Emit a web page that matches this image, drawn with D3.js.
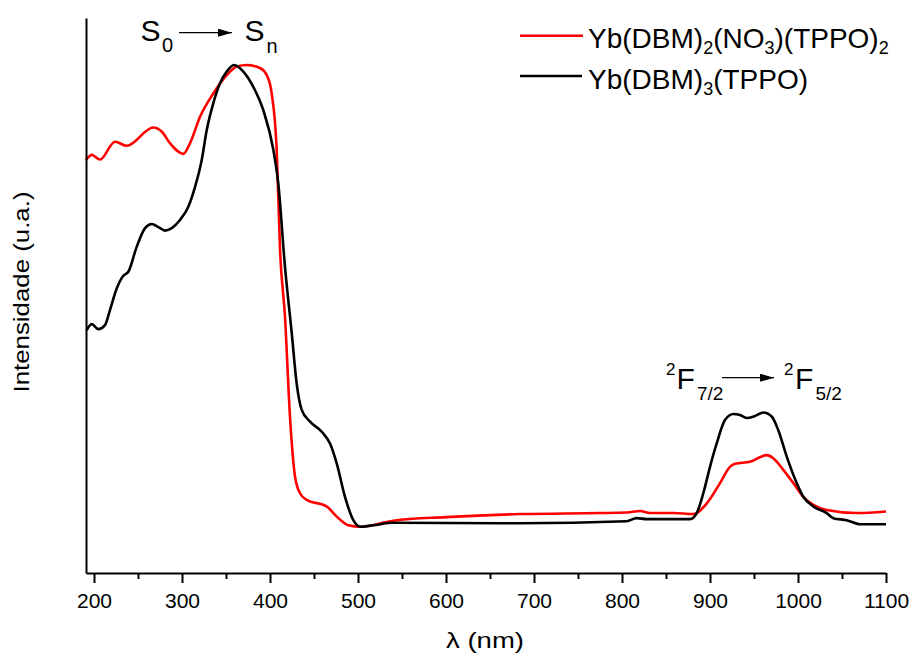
<!DOCTYPE html>
<html>
<head>
<meta charset="utf-8">
<script src="https://cdn.jsdelivr.net/npm/d3@7"></script>
<style>
  html, body { margin: 0; padding: 0; background: #fff; }
  svg { display: block; font-family: "Liberation Sans", Arial, sans-serif; }
</style>
</head>
<body>
<svg id="chart" width="915" height="655"></svg>
<script>
// ---- Data (wavelength in nm, intensity in arbitrary units, peak = 100) ----
const redWavelength = [190.9, 197.4, 206.8, 223.9, 237.2, 267.4, 276.9, 286.4, 301.5, 309.1,
  320.5, 335.6, 350.8, 362.2, 373.5, 388.6, 396.3, 401.9, 407.6, 411.4, 417, 422.7, 428.4,
  434.1, 441.7, 464.4, 475.8, 489, 502.3, 540.1, 600, 684.1, 775, 805.3, 820.5, 831.8, 858.3,
  881, 896.3, 911.4, 922.7, 928.4, 945.5, 956.8, 964.4, 971.9, 983.3, 994.7, 1006, 1017.4,
  1032.6, 1066.7, 1100];
const redIntensity = [81.3, 82.3, 81.4, 84.9, 84.1, 87.7, 86.9, 84.6, 82.5, 84.6,
  89.8, 94.4, 98.0, 99.7, 100, 99.4, 98.0, 94.4, 83.3, 63.6, 50.5, 30.8, 19.0,
  15.7, 14.4, 13.1, 11.1, 9.4, 9.1, 10.3, 11.0, 11.6, 11.8, 11.9, 12.2, 11.8, 11.8,
  11.6, 13.7, 17.7, 20.9, 21.5, 21.9, 22.8, 23.2, 22.6, 20.3, 17.7, 15.0, 13.4,
  12.4, 11.8, 12.1];

const blackWavelength = [191.7, 197.4, 204.9, 212.5, 218.2, 225.8, 233.3, 239, 248.5, 258,
  265.6, 273.1, 280.7, 288.3, 297.7, 307.2, 314.8, 322.4, 328.1, 335.6, 343.2, 350.8, 359.1,
  369.7, 381, 392.4, 403.8, 409.4, 417, 424.7, 430.3, 436, 445.5, 458.8, 468.2, 475.8, 485.2,
  494.7, 502.3, 517.4, 540.1, 661.4, 684.1, 805.3, 816.7, 828.1, 877.3, 884.9, 892.4, 900,
  907.6, 917, 926.5, 934.1, 941.7, 951.1, 960.6, 970.1, 977.6, 987.2, 998.5, 1006, 1017.4,
  1032.6, 1040.1, 1055.3, 1070.5, 1100];
const blackIntensity = [47.8, 49.0, 48.0, 48.8, 51.8, 56.0, 58.5, 59.3, 64.2, 67.9,
  68.7, 68.1, 67.4, 67.9, 69.5, 72.1, 76.0, 81.3, 87.2, 92.5, 96.4, 98.7, 100,
  98.7, 95.7, 91.1, 83.3, 76.7, 60.3, 47.2, 37.3, 32.1, 29.8, 27.8, 25.5, 21.6, 15.0,
  10.4, 9.1, 9.4, 9.9, 9.8, 9.8, 10.2, 10.8, 10.6, 10.6, 11.8, 15.7, 20.9,
  25.5, 30.1, 31.3, 31.1, 30.5, 30.9, 31.6, 30.8, 28.1, 22.9, 17.7, 15.0, 13.1,
  11.8, 10.8, 10.4, 9.6, 9.6];

const majorTicks = [200, 300, 400, 500, 600, 700, 800, 900, 1000, 1100];
const minorTicks = [250, 350, 450, 550, 650, 750, 850, 950, 1050];

const seriesNames = ["Yb(DBM)2(NO3)(TPPO)2", "Yb(DBM)3(TPPO)"];
const seriesColors = ["#ff0000", "#000000"];

// ---- Layout ----
const svg = d3.select("#chart");
const x = d3.scaleLinear().domain([190.9, 1100]).range([86, 886]);
const y = d3.scaleLinear().domain([0, 109.25]).range([573, 18]);

const line = d3.line()
  .x(d => x(d[0]))
  .y(d => y(d[1]))
  .curve(d3.curveMonotoneX);

const redData = redWavelength.map((w, i) => [w, redIntensity[i]]);
const blackData = blackWavelength.map((w, i) => [w, blackIntensity[i]]);

// Curves
svg.append("path").datum(redData)
  .attr("d", line).attr("fill", "none")
  .attr("stroke", seriesColors[0]).attr("stroke-width", 2.6)
  .attr("stroke-linejoin", "round");
svg.append("path").datum(blackData)
  .attr("d", line).attr("fill", "none")
  .attr("stroke", seriesColors[1]).attr("stroke-width", 2.6)
  .attr("stroke-linejoin", "round");

// X axis (major)
const xAxis = svg.append("g").attr("transform", "translate(0,573)")
  .call(d3.axisBottom(x).tickValues(majorTicks).tickSize(10).tickSizeOuter(0)
    .tickPadding(10).tickFormat(d3.format("d")));
xAxis.select(".domain").attr("stroke", "#000").attr("stroke-width", 2);
xAxis.selectAll(".tick line").attr("stroke", "#000").attr("stroke-width", 2);
xAxis.selectAll(".tick text").attr("font-size", 21)
  .attr("font-family", "'Liberation Sans', Arial, sans-serif").attr("fill", "#000");

// X axis (minor)
const xMinor = svg.append("g").attr("transform", "translate(0,573)")
  .call(d3.axisBottom(x).tickValues(minorTicks).tickSize(6).tickSizeOuter(0).tickFormat(""));
xMinor.select(".domain").remove();
xMinor.selectAll(".tick line").attr("stroke", "#000").attr("stroke-width", 2);

// Y axis (line only)
const yAxis = svg.append("g").attr("transform", "translate(86,0)")
  .call(d3.axisLeft(y).tickValues([]).tickSizeOuter(0));
yAxis.select(".domain").attr("stroke", "#000").attr("stroke-width", 2);

// Axis titles
svg.append("text").attr("x", 485).attr("y", 648)
  .attr("text-anchor", "middle").attr("font-size", 22)
  .attr("textLength", 78).attr("lengthAdjust", "spacingAndGlyphs")
  .text("λ (nm)");
svg.append("text").attr("transform", "translate(29,292) rotate(-90)")
  .attr("text-anchor", "middle").attr("font-size", 22)
  .attr("textLength", 201).attr("lengthAdjust", "spacingAndGlyphs")
  .text("Intensidade (u.a.)");

// Arrow marker
svg.append("defs").append("marker")
  .attr("id", "arrow").attr("viewBox", "0 0 14 8")
  .attr("refX", 14).attr("refY", 4)
  .attr("markerWidth", 14).attr("markerHeight", 8)
  .attr("markerUnits", "userSpaceOnUse").attr("orient", "auto")
  .append("path").attr("d", "M0,0 L14,4 L0,8 Z").attr("fill", "#000");

// S0 -> Sn annotation
const ann1 = svg.append("g");
ann1.append("text").attr("x", 140.5).attr("y", 41).attr("font-size", 30).text("S");
ann1.append("text").attr("x", 162).attr("y", 52).attr("font-size", 20).text("0");
ann1.append("line").attr("x1", 179).attr("x2", 232).attr("y1", 32.7).attr("y2", 32.7)
  .attr("stroke", "#000").attr("stroke-width", 1.2).attr("marker-end", "url(#arrow)");
ann1.append("text").attr("x", 244.5).attr("y", 41).attr("font-size", 30).text("S");
ann1.append("text").attr("x", 266.5).attr("y", 52.5).attr("font-size", 20).text("n");

// 2F7/2 -> 2F5/2 annotation
const ann2 = svg.append("g");
ann2.append("text").attr("x", 666).attr("y", 375).attr("font-size", 17).text("2");
ann2.append("text").attr("x", 676.5).attr("y", 389).attr("font-size", 30).text("F");
ann2.append("text").attr("x", 697).attr("y", 400).attr("font-size", 19).text("7/2");
ann2.append("line").attr("x1", 722).attr("x2", 774).attr("y1", 377.7).attr("y2", 377.7)
  .attr("stroke", "#000").attr("stroke-width", 1.2).attr("marker-end", "url(#arrow)");
ann2.append("text").attr("x", 784).attr("y", 375).attr("font-size", 17).text("2");
ann2.append("text").attr("x", 795).attr("y", 389).attr("font-size", 30).text("F");
ann2.append("text").attr("x", 815.5).attr("y", 400).attr("font-size", 19).text("5/2");

// Legend
const legend = svg.append("g");
legend.append("line").attr("x1", 520).attr("x2", 583).attr("y1", 35.7).attr("y2", 35.7)
  .attr("stroke", seriesColors[0]).attr("stroke-width", 2.6);
legend.append("line").attr("x1", 520).attr("x2", 582).attr("y1", 76).attr("y2", 76)
  .attr("stroke", seriesColors[1]).attr("stroke-width", 2.6);

function chemLabel(sel, name) {
  // render digits as subscripts
  const parts = name.match(/[^0-9]+|[0-9]+/g);
  parts.forEach(p => {
    if (/^[0-9]+$/.test(p)) {
      sel.append("tspan").attr("font-size", 18).attr("dy", 6).text(p);
    } else {
      const t = sel.append("tspan").text(p);
      if (sel.selectAll("tspan").size() > 1) t.attr("dy", -6);
    }
  });
}
const t1 = legend.append("text").attr("x", 588).attr("y", 48.3).attr("font-size", 28);
chemLabel(t1, seriesNames[0]);
const t2 = legend.append("text").attr("x", 588).attr("y", 89).attr("font-size", 28);
chemLabel(t2, seriesNames[1]);
</script>
</body>
</html>
